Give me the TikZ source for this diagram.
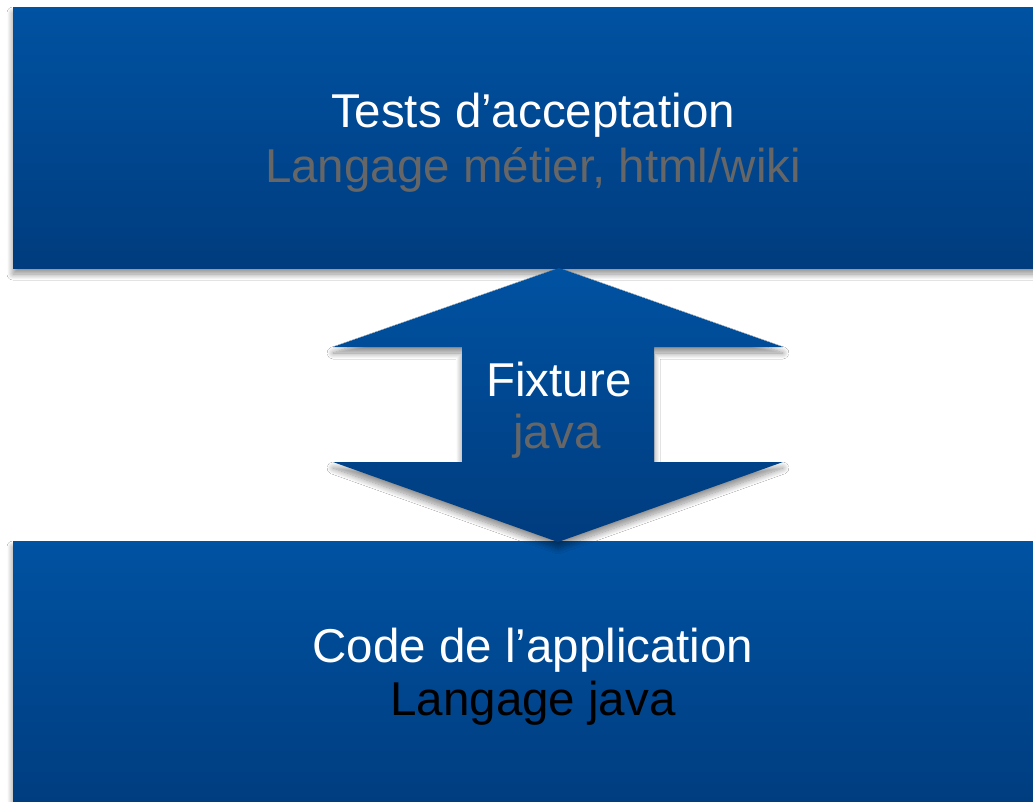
\documentclass[tikz,border=0pt]{standalone}
\usepackage{fontspec}
\setmainfont{Liberation Sans}
\usetikzlibrary{shadows.blur}
\definecolor{blueTop}{HTML}{0052A2}
\definecolor{blueBot}{HTML}{003C7E}
\definecolor{subgray}{HTML}{666666}
\tikzset{
  panel/.style={top color=blueTop, bottom color=blueBot, draw=none,
    blur shadow={shadow xshift=0pt, shadow yshift=-6pt, shadow blur radius=6pt, shadow blur steps=12, shadow opacity=45}},
  big/.style={font=\fontsize{47.5}{56}\selectfont, anchor=base, inner sep=0pt},
  whitetxt/.style={big, text=white},
  graytxt/.style={big, text=subgray},
  blacktxt/.style={big, text=black}
}
\begin{document}
\begin{tikzpicture}[x=1pt,y=-1pt]
\useasboundingbox (0,0) rectangle (1033,801);
\clip (0,0) rectangle (1033,801);
\fill[white] (0,0) rectangle (1033,801);
% top panel
\path[panel] (13,7) rectangle (1060,268);
% bottom panel
\path[panel] (13,541) rectangle (1060,815);
% double arrow
\path[panel] (559,268) -- (783,347) -- (654,347) -- (654,462) -- (783,462)
  -- (558,542) -- (333,462) -- (462,462) -- (462,347) -- (333,347) -- cycle;
% texts
\node[whitetxt] (t1) at (533,127) {Tests d’acceptation};
\node[graytxt] (t2) at (533,182) {Langage métier, html/wiki};
\node[whitetxt] (f1) at (559,396) {Fixture};
\node[graytxt] (f2) at (557,448) {java};
\node[whitetxt] (c1) at (533,662) {Code de l’application};
\node[blacktxt] (c2) at (533,715) {Langage java};
\end{tikzpicture}
\end{document}
